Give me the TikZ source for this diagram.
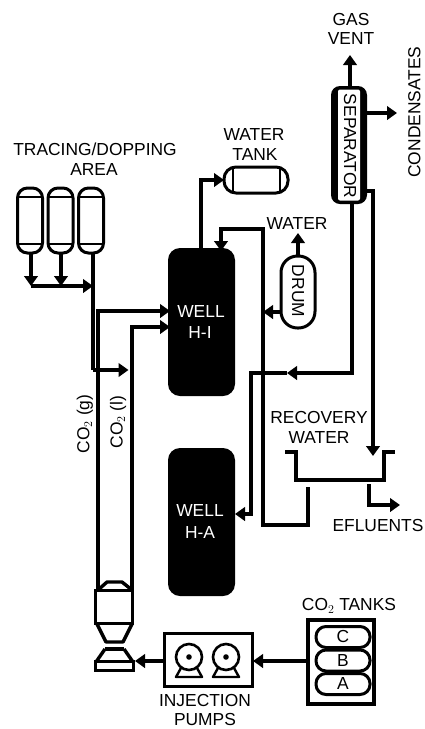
\documentclass[tikz,border=0pt]{standalone}
\usepackage{fontspec}
\setmainfont{Liberation Sans}
\usetikzlibrary{arrows.meta,calc}
\tikzset{
 pipe/.style={line width=3.4pt,line join=miter},
 flow/.style={pipe,-{Triangle[length=10pt,width=13.5pt]}},
 lbl/.style={inner sep=0pt,outer sep=0pt,font=\fontsize{17.4}{19}\selectfont,align=center,text=black},
 well/.style={fill=black,draw=none,rounded corners=12pt,minimum width=67pt,minimum height=148pt,inner sep=0pt,outer sep=0pt},
 welltext/.style={lbl,text=white},
 vessel/.style={draw=black,line width=3pt,fill=white,inner sep=0pt,outer sep=0pt},
 tracer/.style={vessel,rounded corners=10pt,minimum width=25pt,minimum height=65pt},
 pill/.style={vessel,rounded corners=10pt,minimum width=54pt,minimum height=21pt,font=\fontsize{17.4}{19}\selectfont},
 thin box/.style={draw=black,line width=3.6pt,fill=white,inner sep=0pt,outer sep=0pt},
 sline/.style={line width=2.4pt},
}
\begin{document}
\begin{tikzpicture}[x=1pt,y=-1pt]
\useasboundingbox (0,0) rectangle (424,729);
\fill[white] (0,0) rectangle (424,729);
% tracer vessels
\node[tracer] (t1) at (30,220.5) {};
\node[tracer] (t2) at (60.5,220.5) {};
\node[tracer] (t3) at (91,220.5) {};
\foreach \t in {t1,t2,t3}{
 \draw[sline] ($(\t.north west)+(0,9)$) -- ($(\t.north east)+(0,9)$);
 \draw[sline] ($(\t.south west)+(0,-9)$) -- ($(\t.south east)+(0,-9)$);
}
% wells
\node[well] (w1) at (201.5,322) {};
\node[well] (w2) at (201.5,522) {};
\node[welltext] at (201,312) {WELL};
\node[welltext] at (200,333) {H-I};
\node[welltext] at (200,511) {WELL};
\node[welltext] at (200,533) {H-A};
% water tank
\node[vessel,rounded corners=12pt,minimum width=64pt,minimum height=26pt] (wt) at (256,180) {};
\draw[sline] (233,167) -- (233,193);
\draw[sline] (280,167) -- (280,193);
% drum
\node[vessel,rounded corners=16.5pt,minimum width=34pt,minimum height=72pt] (dr) at (298,292) {};
\node[lbl,rotate=-90] at (298,291) {DRUM};
% separator
\node[fill=black,rounded corners=9pt,minimum width=36pt,minimum height=118pt,inner sep=0pt,outer sep=0pt] (sp) at (349,145) {};
\node[fill=white,rounded corners=2pt,minimum width=22pt,minimum height=111pt,inner sep=0pt] (spi) at (349,145) {};
\node[lbl,rotate=-90] at (350,146) {SEPARATOR};
% basin
\coordinate (b1) at (285,452);
\coordinate (b2) at (296,480);
\coordinate (b3) at (384,480);
\coordinate (b4) at (395,452);
\draw[pipe] (b1) -| (b2) -- (b3) |- (b4);
% pumps box
\node[thin box,minimum width=88pt,minimum height=53pt] (pb) at (208.5,660) {};
\foreach \c/\n in {189/pa,226/pb2}{
 \draw[sline,line join=round] (\c-8,668) -- (\c-13,677) -- (\c+13,677) -- (\c+8,668);
 \node[draw,circle,line width=2.6pt,minimum size=26pt,inner sep=0pt,outer sep=0pt,fill=white] (\n) at (\c,657) {};
 \fill (\n) circle (2.8pt);
}
% CO2 tanks box
\node[thin box,minimum width=66pt,minimum height=84pt] (tb) at (341,662) {};
\node[pill] (pc) at (343,637) {C};
\node[pill] (pb3) at (343,660.5) {B};
\node[pill] (pa3) at (343,684) {A};
% pump unit
\coordinate (pt1) at (98,590);
\coordinate (pt2) at (132,590);
\draw[pipe,line join=round] (pt1) -- (107,582) -- (122,582) -- (pt2);
\node[vessel,minimum width=37pt,minimum height=33pt] (ub) at (114,606.5) {};
\draw[pipe,line join=round] (97,624) -- (106,642) -- (123,642) -- (132,624);
\draw[pipe] (105,649) -- (124,649);
\draw[pipe,line join=round] (105,649) -- (96,662);
\draw[pipe,line join=round] (124,649) -- (133,662);
\node[vessel,minimum width=38pt,minimum height=8.5pt] (ubb) at (114.5,666) {};
% labels
\node[lbl] at (95,149) {TRACING/DOPPING};
\node[lbl] at (94,170) {AREA};
\node[lbl] at (254,135) {WATER};
\node[lbl] at (255,155) {TANK};
\node[lbl] at (297,224) {WATER};
\node[lbl] at (351,20) {GAS};
\node[lbl] at (351,39) {VENT};
\node[lbl,rotate=90] at (414.5,112) {CONDENSATES};
\node[lbl] at (319,418) {RECOVERY};
\node[lbl] at (319,438) {WATER};
\node[lbl] at (378,526) {EFLUENTS};
\node[lbl] at (205,701) {INJECTION};
\node[lbl] at (205,719.5) {PUMPS};
\node[lbl] at (349,606) {CO$_2$ TANKS};
\node[lbl,rotate=90] at (85,424) {CO$_2$ (g)};
\node[lbl,rotate=90] at (118,422) {CO$_2$ (l)};
% tracer connectors
\coordinate (col) at (31,286);
\coordinate (mix) at (93,286);
\draw[flow] (t1.south -| col) -- (col);
\coordinate (col2) at (61,286);
\draw[flow] (t2.south -| col2) -- (col2);
\draw[flow] (col) -- (mix);
\coordinate (drop) at (93,370);
\coordinate (dropin) at (128.5,370);
\draw[pipe] (t3.south -| mix) -- (drop);
\draw[flow] (drop) -- (dropin);
% CO2 lines
\coordinate (g1) at (170,311);
\coordinate (l1) at (170,327);
\draw[flow] (pt1) |- (g1);
\draw[flow] (pt2) |- (l1);
% water tank feed
\coordinate (wtb) at (201,248);
\draw[flow] (wtb) |- (wt.west);
% recirc to well H-I
\coordinate (rt) at (263,229);
\coordinate (wa) at (221,251);
\coordinate (rb) at (263,525);
\coordinate (bo) at (308,487);
\draw[flow] (bo) |- (rb) -- (rt) -| (wa);
% drum connectors
\coordinate (dtip) at (263,312);
\draw[flow] (dr.west |- dtip) -- (dtip);
\coordinate (wtop) at (298,233);
\draw[flow] (dr.north) -- (wtop);
% separator outputs
\coordinate (vent) at (350,55);
\draw[flow] (sp.north -| vent) -- (vent);
\coordinate (cond) at (397,113);
\draw[flow] (sp.east |- cond) -- (cond);
\coordinate (sb) at (352,204);
\coordinate (mid) at (287,373);
\coordinate (w2in) at (235,514);
\coordinate (down) at (251,514);
\draw[flow] (sb) |- (mid);
\draw[flow] (mid) -| (down) -- (w2in);
\coordinate (sr) at (367,191);
\coordinate (btip) at (373,456);
\draw[flow] (sr) -| (btip);
% effluents
\coordinate (ef0) at (369,484);
\coordinate (ef1) at (400,505);
\draw[flow] (ef0) |- (ef1);
% bottom connectors
\coordinate (ptip) at (135,661);
\draw[flow] (pb.west |- ptip) -- (ptip);
\coordinate (tip2) at (253,661);
\draw[flow] (tb.west |- tip2) -- (tip2);
\end{tikzpicture}
\end{document}
